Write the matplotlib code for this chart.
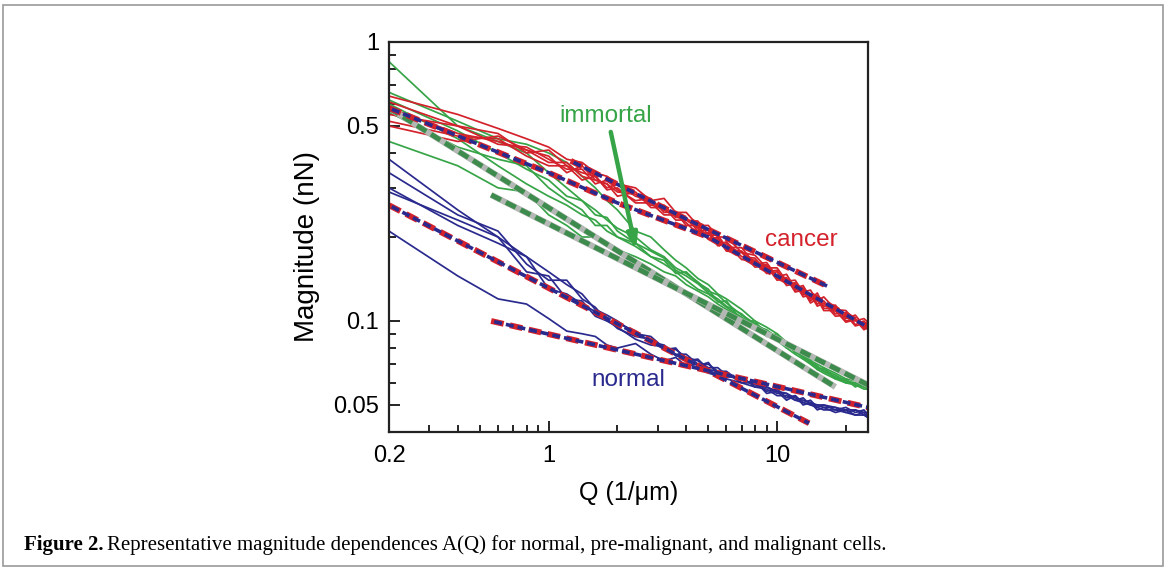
"""Magnitude vs Q for normal, immortal and cancer cells (log-log)."""

import matplotlib
import matplotlib.pyplot as plt
from matplotlib.patches import Rectangle
from matplotlib.ticker import FixedLocator, NullFormatter

matplotlib.pyplot.switch_backend("Agg")
plt.rcParams["font.family"] = ["Liberation Sans", "DejaVu Sans"]

RED = "#d3222b"
GREEN = "#36a447"
BLUE = "#2a2a8e"
dpi = 100

# shared wave-vector grid (1/um)
q = [0.2, 0.4, 0.6, 0.8, 1.0, 1.2, 1.4, 1.6, 1.8, 2.0, 2.4, 2.8, 3.2, 3.6,
     4.0, 4.5, 5.0, 5.5, 6.0, 7.0, 8.0, 9.0, 10, 11, 12, 13, 14, 15, 16,
     18, 20, 22, 24, 25]

# cancer cells
cancer = [
    [0.64, 0.55, 0.49, 0.45, 0.42, 0.38, 0.37, 0.34, 0.33, 0.31, 0.30, 0.27,
     0.275, 0.245, 0.245, 0.22, 0.22, 0.20, 0.2, 0.176, 0.172, 0.155, 0.155,
     0.139, 0.14, 0.127, 0.129, 0.118, 0.122, 0.11, 0.109, 0.1, 0.102, 0.099],
    [0.61, 0.50, 0.47, 0.40, 0.41, 0.36, 0.34, 0.33, 0.30, 0.31, 0.28, 0.27,
     0.25, 0.24, 0.23, 0.228, 0.203, 0.203, 0.184, 0.183, 0.16, 0.162, 0.144,
     0.147, 0.131, 0.134, 0.12, 0.126, 0.113, 0.114, 0.102, 0.105, 0.096, 0.1],
    [0.58, 0.47, 0.44, 0.41, 0.37, 0.37, 0.33, 0.32, 0.31, 0.29, 0.285, 0.26,
     0.26, 0.235, 0.235, 0.21, 0.212, 0.188, 0.192, 0.17, 0.168, 0.15, 0.152,
     0.136, 0.137, 0.124, 0.125, 0.115, 0.118, 0.106, 0.107, 0.097, 0.1, 0.096],
    [0.55, 0.50, 0.43, 0.42, 0.38, 0.35, 0.35, 0.31, 0.32, 0.295, 0.27, 0.275,
     0.245, 0.245, 0.22, 0.22, 0.198, 0.199, 0.18, 0.178, 0.158, 0.159, 0.142,
     0.143, 0.129, 0.131, 0.118, 0.123, 0.111, 0.111, 0.1, 0.102, 0.094, 0.097],
    [0.52, 0.46, 0.45, 0.39, 0.36, 0.36, 0.32, 0.33, 0.295, 0.3, 0.265, 0.265,
     0.24, 0.24, 0.225, 0.205, 0.207, 0.186, 0.189, 0.166, 0.165, 0.148, 0.15,
     0.134, 0.136, 0.122, 0.124, 0.113, 0.116, 0.104, 0.105, 0.096, 0.098, 0.094],
    [0.50, 0.44, 0.46, 0.41, 0.39, 0.34, 0.36, 0.32, 0.31, 0.28, 0.29, 0.255,
     0.255, 0.23, 0.23, 0.215, 0.196, 0.197, 0.178, 0.176, 0.156, 0.157, 0.14,
     0.142, 0.127, 0.129, 0.116, 0.12, 0.109, 0.109, 0.099, 0.101, 0.093, 0.095],
]

# immortal (pre-malignant) cells
immortal = [
    [0.85, 0.50, 0.44, 0.40, 0.34, 0.30, 0.27, 0.25, 0.23, 0.215, 0.2, 0.18,
     0.17, 0.155, 0.148, 0.138, 0.128, 0.124, 0.116, 0.105, 0.098, 0.092,
     0.088, 0.082, 0.079, 0.074, 0.072, 0.068, 0.067, 0.064, 0.061, 0.06,
     0.059, 0.059],
    [0.66, 0.52, 0.45, 0.43, 0.40, 0.37, 0.33, 0.30, 0.27, 0.25, 0.21, 0.2,
     0.18, 0.165, 0.155, 0.142, 0.135, 0.125, 0.12, 0.11, 0.1, 0.095, 0.09,
     0.084, 0.08, 0.076, 0.072, 0.07, 0.068, 0.065, 0.062, 0.061, 0.06, 0.06],
    [0.62, 0.48, 0.40, 0.35, 0.32, 0.28, 0.27, 0.24, 0.235, 0.21, 0.19, 0.178,
     0.168, 0.152, 0.145, 0.136, 0.126, 0.12, 0.113, 0.106, 0.096, 0.093,
     0.087, 0.083, 0.077, 0.075, 0.071, 0.069, 0.066, 0.063, 0.061, 0.059,
     0.058, 0.057],
    [0.60, 0.45, 0.36, 0.31, 0.28, 0.26, 0.24, 0.23, 0.21, 0.2, 0.185, 0.17,
     0.16, 0.15, 0.14, 0.13, 0.125, 0.118, 0.112, 0.103, 0.097, 0.09, 0.086,
     0.081, 0.078, 0.074, 0.071, 0.068, 0.066, 0.063, 0.06, 0.06, 0.058, 0.058],
    [0.56, 0.42, 0.38, 0.36, 0.30, 0.27, 0.25, 0.22, 0.22, 0.2, 0.19, 0.17,
     0.165, 0.148, 0.15, 0.137, 0.13, 0.117, 0.118, 0.1, 0.1, 0.088, 0.09,
     0.08, 0.081, 0.073, 0.073, 0.067, 0.068, 0.062, 0.062, 0.058, 0.06, 0.057],
    [0.44, 0.36, 0.30, 0.29, 0.24, 0.22, 0.2, 0.2, 0.19, 0.18, 0.17, 0.16,
     0.15, 0.145, 0.135, 0.128, 0.122, 0.115, 0.11, 0.103, 0.094, 0.09, 0.085,
     0.08, 0.076, 0.073, 0.07, 0.067, 0.065, 0.062, 0.06, 0.059, 0.057, 0.057],
]

# normal cells
normal = [
    [0.38, 0.25, 0.2, 0.17, 0.15, 0.135, 0.125, 0.11, 0.105, 0.1, 0.09, 0.088,
     0.08, 0.079, 0.074, 0.072, 0.068, 0.068, 0.064, 0.062, 0.059, 0.058,
     0.056, 0.055, 0.053, 0.052, 0.051, 0.05, 0.05, 0.049, 0.048, 0.048,
     0.047, 0.047],
    [0.34, 0.24, 0.21, 0.16, 0.14, 0.14, 0.12, 0.112, 0.1, 0.098, 0.092,
     0.084, 0.082, 0.076, 0.076, 0.07, 0.07, 0.066, 0.066, 0.06, 0.06, 0.056,
     0.057, 0.053, 0.054, 0.051, 0.052, 0.049, 0.05, 0.048, 0.049, 0.047,
     0.048, 0.046],
    [0.30, 0.22, 0.19, 0.17, 0.13, 0.125, 0.115, 0.108, 0.102, 0.094, 0.088,
     0.086, 0.079, 0.08, 0.072, 0.073, 0.067, 0.066, 0.063, 0.063, 0.058,
     0.058, 0.055, 0.055, 0.052, 0.053, 0.05, 0.05, 0.049, 0.049, 0.047,
     0.048, 0.046, 0.046],
    [0.29, 0.23, 0.2, 0.15, 0.145, 0.12, 0.118, 0.104, 0.1, 0.095, 0.086,
     0.082, 0.081, 0.075, 0.074, 0.069, 0.071, 0.064, 0.065, 0.06, 0.061,
     0.055, 0.056, 0.052, 0.054, 0.05, 0.051, 0.048, 0.049, 0.047, 0.048,
     0.046, 0.047, 0.045],
    [0.21, 0.145, 0.12, 0.115, 0.102, 0.092, 0.09, 0.088, 0.082, 0.08, 0.083,
     0.076, 0.072, 0.074, 0.069, 0.07, 0.065, 0.064, 0.062, 0.06, 0.058,
     0.057, 0.054, 0.054, 0.052, 0.051, 0.05, 0.049, 0.048, 0.048, 0.047,
     0.046, 0.046, 0.045],
]

# power-law fits (end points)
cancer_fit_q = [[0.2, 1, 2, 5, 10, 25], [1.25, 4, 17]]
cancer_fit_a = [[0.58, 0.34, 0.265, 0.2, 0.145, 0.095], [0.375, 0.232, 0.132]]
immortal_fit_q = [[0.2, 18], [0.56, 25]]
immortal_fit_a = [[0.58, 0.058], [0.283, 0.059]]
normal_fit_q = [[0.2, 13.8], [0.56, 25]]
normal_fit_a = [[0.26, 0.043], [0.1, 0.049]]

fig = plt.figure(figsize=(1168 / dpi, 571 / dpi), dpi=dpi)
ax = fig.add_axes([389 / 1168, 1 - 432 / 571, 479 / 1168, 390 / 571])

for curves, color in ((normal, BLUE), (immortal, GREEN), (cancer, RED)):
    for a in curves:
        ax.plot(q, a, color=color, lw=1.25)

dash = (0, (2.2, 1.1))
for fq, fa in zip(immortal_fit_q, immortal_fit_a):
    ax.plot(fq, fa, color="#b4b8b4", lw=4.4, solid_capstyle="butt")
    ax.plot(fq, fa, color="#3e8c4d", lw=3.6, linestyle=dash)
for fq, fa in zip(cancer_fit_q + normal_fit_q, cancer_fit_a + normal_fit_a):
    ax.plot(fq, fa, color=RED, lw=4.2, linestyle=dash)
    ax.plot(fq, fa, color=BLUE, lw=2.6, linestyle=(2.2 * 1.1, (2.2, 1.1)))

ax.set_xscale("log")
ax.set_yscale("log")
ax.set_xlim(0.2, 25)
ax.set_ylim(0.04, 1)

ax.xaxis.set_major_locator(FixedLocator([0.2, 1, 10]))
ax.xaxis.set_minor_locator(FixedLocator(
    [0.3, 0.4, 0.5, 0.6, 0.7, 0.8, 0.9, 2, 3, 4, 5, 6, 7, 8, 9, 20]))
ax.set_xticklabels(["0.2", "1", "10"])
ax.yaxis.set_major_locator(FixedLocator([0.05, 0.1, 0.5, 1]))
ax.yaxis.set_minor_locator(FixedLocator(
    [0.06, 0.07, 0.08, 0.09, 0.2, 0.3, 0.4, 0.6, 0.7, 0.8, 0.9]))
ax.set_yticklabels(["0.05", "0.1", "0.5", "1"])
ax.xaxis.set_minor_formatter(NullFormatter())
ax.yaxis.set_minor_formatter(NullFormatter())
ax.tick_params(which="both", direction="in", top=False, right=False,
               labelsize=17, width=1.2)
ax.tick_params(axis="x", pad=9)
ax.tick_params(axis="y", pad=7)
ax.tick_params(which="major", length=8)
ax.tick_params(which="minor", length=5)
for s in ax.spines.values():
    s.set_linewidth(1.6)
    s.set_color("#222222")

ax.set_xlabel("Q (1/\u03bcm)", fontsize=18, va="center")
ax.xaxis.set_label_coords(0.5, (432 - 493) / 390)
ax.set_ylabel("Magnitude (nN)", fontsize=20, va="center")
ax.yaxis.set_label_coords((307 - 389) / 479, 0.475)

ax.text(1.78, 0.543, "immortal", color=GREEN, fontsize=17.5, ha="center",
        va="center")
ax.text(12.8, 0.195, "cancer", color=RED, fontsize=17.5, ha="center",
        va="center")
ax.text(2.24, 0.0614, "normal", color=BLUE, fontsize=17.5, ha="center",
        va="center")
ax.annotate("", xy=(2.41, 0.18), xytext=(1.87, 0.476),
            arrowprops=dict(arrowstyle="-|>,head_length=0.9,head_width=0.3",
                            color=GREEN, lw=3.2, shrinkA=0, shrinkB=0))

# caption
cap_y = 1 - 545 / 571
t = fig.text(24 / 1168, cap_y, "Figure 2.", family="Liberation Serif",
             fontsize=15, fontweight="bold", va="center")
fig.canvas.draw()
bb = t.get_window_extent()
fig.text((bb.x1 + 4) / 1168, cap_y,
         "Representative magnitude dependences A(Q) for normal, "
         "pre-malignant, and malignant cells.",
         family="Liberation Serif", fontsize=15, va="center")

fig.patches.append(Rectangle((3 / 1168, 5 / 571), 1160 / 1168, 561 / 571,
                             transform=fig.transFigure, fill=False,
                             edgecolor="#999999", lw=1.2))

fig.savefig("out.png", dpi=dpi)
